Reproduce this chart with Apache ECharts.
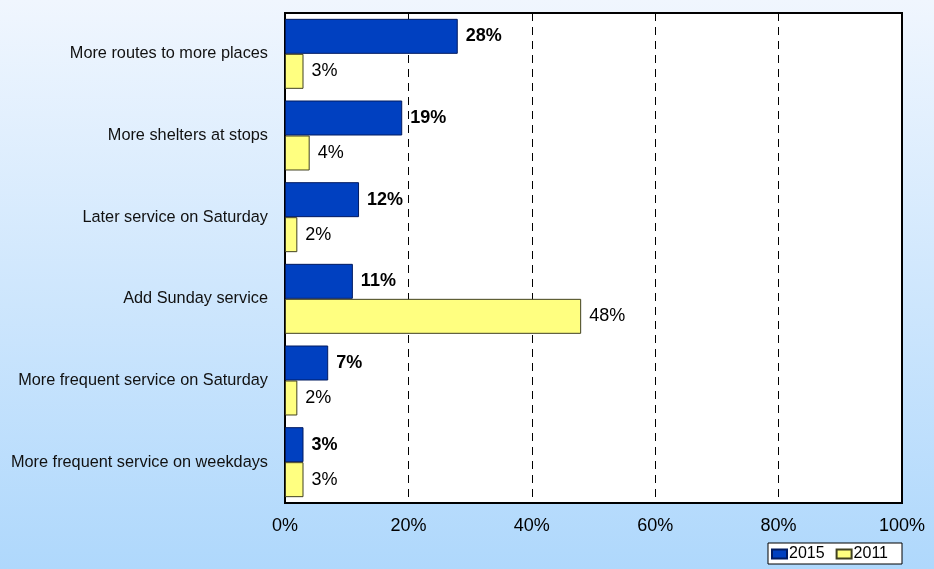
<!DOCTYPE html>
<html>
<head>
<meta charset="utf-8">
<script src="https://cdn.jsdelivr.net/npm/echarts@6/dist/echarts.min.js"></script>
<style>
  html, body { margin: 0; padding: 0; }
  #chart { width: 934px; height: 569px; }
</style>
</head>
<body>
<div id="chart"></div>
<script>
// Requested service improvements, share of respondents (%)
const categories = [
  'More routes to more places',
  'More shelters at stops',
  'Later service on Saturday',
  'Add Sunday service',
  'More frequent service on Saturday',
  'More frequent service on weekdays'
];
const values2015 = [28, 19, 12, 11, 7, 3];
const values2011 = [3, 4, 2, 48, 2, 3];
const seriesNames = ['2015', '2011'];
const xTicks = [0, 20, 40, 60, 80, 100];

const chart = echarts.init(document.getElementById('chart'));
const FONT = 'Liberation Sans, Arial, sans-serif';

chart.setOption({
  backgroundColor: {
    type: 'linear', x: 0, y: 0, x2: 0, y2: 1,
    colorStops: [
      { offset: 0, color: '#f0f6fe' },
      { offset: 1, color: '#afd8fc' }
    ]
  },
  textStyle: { fontFamily: FONT },
  animation: false,
  grid: {
    left: 285, top: 13, width: 617, height: 490,
    show: true, backgroundColor: '#ffffff',
    borderColor: '#000000', borderWidth: 2,
    containLabel: false
  },
  legend: {
    data: seriesNames,
    right: 32, bottom: 5,
    orient: 'horizontal',
    backgroundColor: '#ffffff',
    borderColor: '#000000', borderWidth: 1,
    borderRadius: 0,
    padding: [3, 14, 2, 3],
    itemGap: 11,
    itemWidth: 15, itemHeight: 9,
    icon: 'rect',
    textStyle: { fontFamily: FONT, fontSize: 16, color: '#000', padding: [0, 0, 0, -3] }
  },
  xAxis: {
    type: 'value',
    min: xTicks[0], max: xTicks[xTicks.length - 1], interval: 20,
    axisLine: { show: true, lineStyle: { color: '#000', width: 2 } },
    axisTick: { show: false },
    axisLabel: {
      formatter: '{value}%', fontSize: 18, color: '#000', margin: 14,
      fontFamily: FONT
    },
    splitLine: {
      show: true,
      lineStyle: { color: '#000', width: 1, type: [8, 6] }
    }
  },
  yAxis: {
    type: 'category',
    data: categories,
    inverse: true,
    axisLine: { show: true, lineStyle: { color: '#000', width: 2 } },
    axisTick: { show: false },
    axisLabel: { fontSize: 16.3, color: '#111', margin: 17, fontFamily: FONT }
  },
  series: [
    {
      name: seriesNames[0],
      type: 'bar',
      data: values2015,
      barGap: '0%',
      barCategoryGap: '14.3%',
      itemStyle: { color: '#0040c0', borderColor: '#001a60', borderWidth: 1 },
      label: {
        show: true, position: 'right', distance: 8,
        formatter: '{c}%', fontSize: 18, fontWeight: 'bold', color: '#000',
        fontFamily: FONT
      }
    },
    {
      name: seriesNames[1],
      type: 'bar',
      data: values2011,
      barGap: '0%',
      barCategoryGap: '14.3%',
      itemStyle: { color: '#ffff80', borderColor: '#404020', borderWidth: 1 },
      label: {
        show: true, position: 'right', distance: 8,
        formatter: '{c}%', fontSize: 18, color: '#000',
        fontFamily: FONT
      }
    }
  ]
});
</script>
</body>
</html>
